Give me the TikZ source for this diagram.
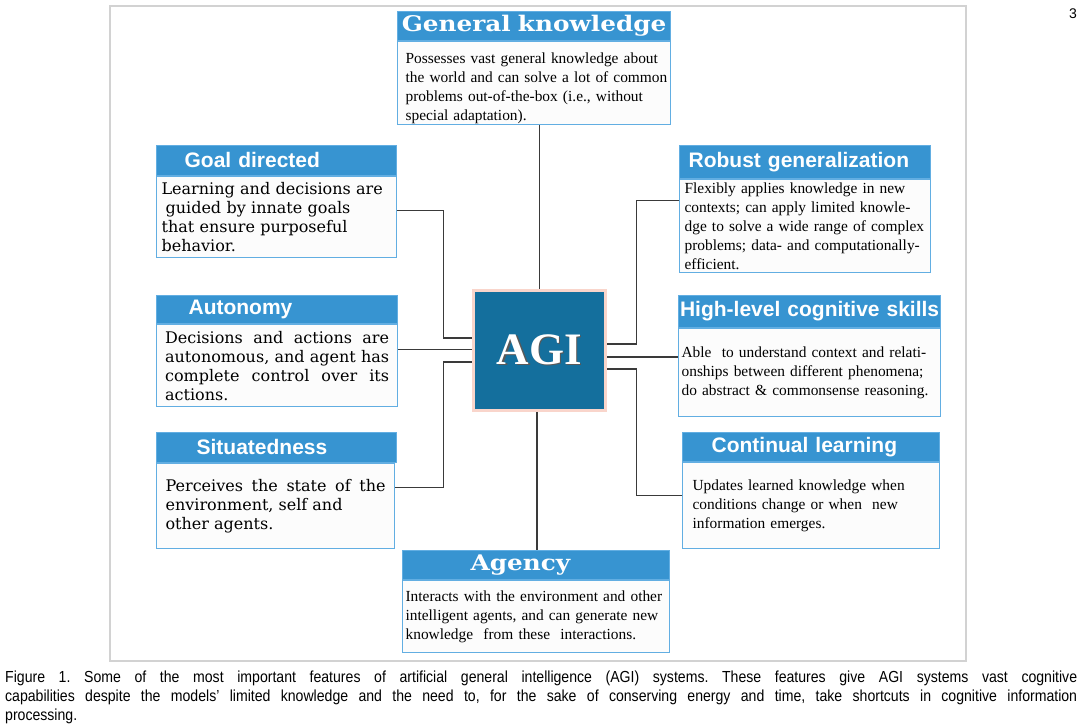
\documentclass[tikz,border=0pt]{standalone}
\usepackage{fontspec}
\setmainfont{Liberation Serif}
\newfontfamily\headsans{Liberation Sans}
\newfontfamily\headserif[FakeStretch=1.15]{DejaVu Serif}
\newfontfamily\wideserif{DejaVu Serif}
\newfontfamily\capsans[FakeStretch=0.88]{Liberation Sans}
\definecolor{headblue}{HTML}{3794D1}
\definecolor{cardline}{HTML}{62AEE2}
\definecolor{cardfill}{HTML}{FCFCFC}
\definecolor{hubblue}{HTML}{146F9D}
\definecolor{hubpink}{HTML}{F9D5CB}
\definecolor{framegray}{HTML}{D2D2D2}
\definecolor{linkgray}{HTML}{3A3A3A}
\hyphenpenalty=10000
\frenchspacing

\begin{document}
\begin{tikzpicture}[x=1pt,y=-1pt,
  frame/.style={draw=framegray, line width=1.5pt},
  card/.style={draw=cardline, line width=1.2pt, fill=cardfill, anchor=north west,
    align=left, inner ysep=0pt, font=\fontsize{15.4}{19}\selectfont},
  leftcard/.style={card, font=\wideserif\fontsize{16}{19}\selectfont},
  head/.style={draw=cardline, line width=1.2pt, fill=headblue, text=white,
    anchor=south west, inner sep=0pt, align=left,
    font=\headsans\bfseries\fontsize{21}{21}\selectfont},
  serifhead/.style={head, font=\headserif\bfseries\fontsize{21.5}{21.5}\selectfont},
  hub/.style={draw=hubpink, line width=3pt, fill=hubblue, text=white,
    minimum width=132pt, minimum height=120pt, font=\bfseries\fontsize{45}{45}\selectfont},
  link/.style={draw=linkgray, line width=1.2pt}]
\useasboundingbox (0,0) rectangle (1080,727);
\draw[frame] (110,6) rectangle (966,661);
\node[font=\headsans\fontsize{14}{14}\selectfont] (pagenum) at (1073,14) {3};

% centre
\node[hub] (agi) at (539.5,350.5)
  {\rlap{\kern1.5pt\raisebox{-1.5pt}{\color{black!65}AGI}}AGI};

% top and bottom
\node[card, text width=257pt, inner xsep=8pt, minimum height=83pt] (gen) at (397,41)
  {\rule{0pt}{21pt}\mbox{Possesses vast general knowledge about}\\\mbox{the world and can solve a lot of common}\\problems out-of-the-box (i.e., without\\special adaptation).};
\node[serifhead, text width=273pt, minimum height=29pt, align=center] (genhd) at (gen.north west) {General knowledge};
\node[card, text width=261pt, inner xsep=3pt, minimum height=72pt] (agency) at (402,580)
  {\mbox{Interacts with the environment and other}\\\mbox{intelligent agents, and can generate new}\\knowledge\ \ from these\ \ interactions.};
\node[serifhead, text width=267pt, minimum height=29pt] (agencyhd) at (agency.north west) {\hspace*{68pt}Agency};

% left column
\node[leftcard, text width=230pt, inner xsep=5pt, minimum height=81pt] (goal) at (156,176)
  {Learning and decisions are\\\hspace*{4pt}guided by innate goals\\that ensure purposeful\\behavior.};
\node[head, text width=240pt, minimum height=30pt] (goalhd) at (goal.north west) {\hspace*{28pt}Goal directed};
\node[leftcard, align=justify, text width=224pt, inner xsep=8.5pt, minimum height=82pt] (auto) at (156,324)
  {Decisions and actions are\linebreak autonomous, and agent has\linebreak complete control over its\linebreak actions.};
\node[head, text width=241pt, minimum height=28pt] (autohd) at (auto.north west) {\hspace*{32pt}Autonomy};
\node[leftcard, align=justify, text width=220pt, inner xsep=9pt, minimum height=85pt] (situ) at (156,463)
  {Perceives the state of the\linebreak environment, self and\newline other agents.};
\node[head, text width=240pt, minimum height=30pt] (situhd) at (situ.north west) {\hspace*{40pt}Situatedness};

% right column
\node[card, text width=241pt, inner xsep=5pt, minimum height=93pt] (robust) at (679,179)
  {Flexibly applies knowledge in new\\contexts; can apply limited knowle-\\\mbox{dge to solve a wide range of complex}\\\mbox{problems; data- and computationally-}\\efficient.};
\node[head, text width=251pt, minimum height=33pt] (robusthd) at (robust.north west) {\hspace*{9pt}Robust generalization};
\node[card, text width=256pt, inner xsep=3pt, minimum height=88pt] (high) at (678,328)
  {\mbox{Able\ \ to understand context and relati-}\\\mbox{onships between different phenomena;}\\\mbox{do abstract \& commonsense reasoning.}};
\node[head, text width=262pt, minimum height=32pt, align=center] (highhd) at (high.north west) {High-level cognitive skills};
\node[card, text width=237pt, inner xsep=10pt, minimum height=86pt] (cont) at (682,462)
  {Updates learned knowledge when\\conditions change or when\ \ new\\information emerges.};
\node[head, text width=257pt, minimum height=29pt] (conthd) at (cont.north west) {\hspace*{29pt}Continual learning};

% connectors
\draw[link] (agi.north) -- (agi.north |- gen.south);
\draw[link] ([xshift=-2.5pt]agi.south) -- ([xshift=-2.5pt]agi.south |- agencyhd.north);
\draw[link] ([yshift=6.5pt]goal.east) -| ([xshift=-28.5pt,yshift=12.5pt]agi.west) -- ([yshift=12.5pt]agi.west);
\draw[link] ([yshift=1pt]agi.west) -- ([yshift=1pt]agi.west -| auto.east);
\draw[link] ([yshift=18.5pt]situ.east) -| ([xshift=-28.5pt,yshift=-11.5pt]agi.west) -- ([yshift=-11.5pt]agi.west);
\draw[link] ([yshift=25.5pt]robust.west) -| ([xshift=29.5pt,yshift=6.5pt]agi.east) -- ([yshift=6.5pt]agi.east);
\draw[link] ([yshift=-6.5pt]agi.east) -- ([yshift=-6.5pt]agi.east -| high.west);
\draw[link] ([yshift=10pt]cont.west) -| ([xshift=29.5pt,yshift=-18.5pt]agi.east) -- ([yshift=-18.5pt]agi.east);

% caption
\node[anchor=north west, text width=1072pt, align=justify, inner sep=0pt,
  font=\capsans\fontsize{16}{19}\selectfont] (caption) at (5,671)
  {Figure 1. Some of the most important features of artificial general intelligence (AGI) systems. These features give AGI systems vast cognitive\linebreak
   capabilities despite the models’ limited knowledge and the need to, for the sake of conserving energy and time, take shortcuts in cognitive information\linebreak
   processing.};
\end{tikzpicture}
\end{document}
